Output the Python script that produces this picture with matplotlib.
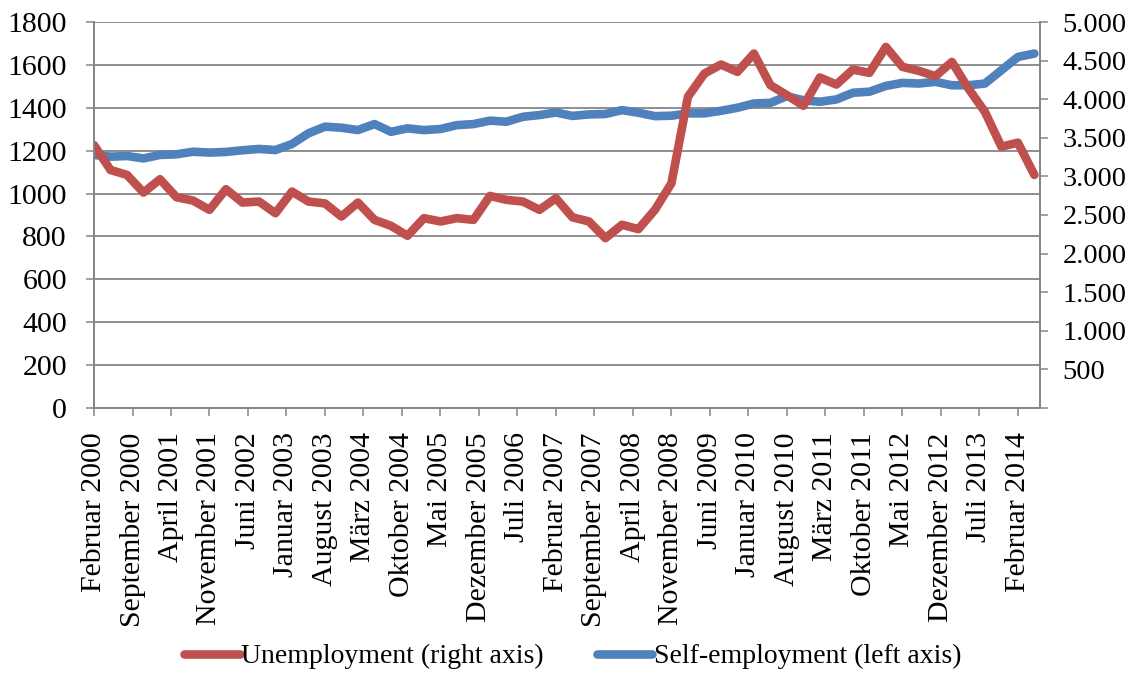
import numpy as np
import matplotlib
matplotlib.use("Agg")
import matplotlib.pyplot as plt
from matplotlib.ticker import FuncFormatter

plt.rcParams['font.family'] = ['Liberation Serif', 'DejaVu Serif']

# quarterly values, Feb 2000 .. May 2014
self_employment = [1180, 1172, 1175, 1164, 1180, 1183, 1195, 1191, 1194, 1202,
                   1208, 1203, 1231, 1281, 1312, 1307, 1296, 1324, 1288, 1304,
                   1296, 1301, 1319, 1324, 1340, 1335, 1358, 1366, 1378, 1362,
                   1369, 1371, 1389, 1377, 1361, 1363, 1374, 1374, 1386, 1400,
                   1420, 1423, 1454, 1435, 1428, 1439, 1470, 1475, 1502, 1516,
                   1513, 1521, 1505, 1505, 1513, 1575, 1637, 1653]
unemployment = [3406, 3083, 3019, 2791, 2963, 2730, 2687, 2567, 2834, 2661,
                2674, 2523, 2803, 2674, 2650, 2480, 2661, 2437, 2360, 2231,
                2459, 2416, 2459, 2437, 2747, 2696, 2674, 2567, 2717, 2470,
                2416, 2200, 2373, 2317, 2567, 2911, 4031, 4332, 4449, 4354,
                4591, 4182, 4052, 3915, 4281, 4190, 4384, 4341, 4677, 4419,
                4367, 4298, 4483, 4139, 3837, 3385, 3437, 3019]
tick_labels = ["Februar 2000", "September 2000", "April 2001", "November 2001",
               "Juni 2002", "Januar 2003", "August 2003", "März 2004",
               "Oktober 2004", "Mai 2005", "Dezember 2005", "Juli 2006",
               "Februar 2007", "September 2007", "April 2008", "November 2008",
               "Juni 2009", "Januar 2010", "August 2010", "März 2011",
               "Oktober 2011", "Mai 2012", "Dezember 2012", "Juli 2013",
               "Februar 2014"]

red = "#C0504D"
blue = "#4F81BD"
grey = "#868686"
fs = 21.5

# months since Feb 2000
months = np.arange(len(self_employment)) * 3

fig = plt.figure(figsize=(11.34, 6.75), dpi=100)
ax = fig.add_axes([0.0829, 0.3956, 0.8341, 0.5718])
ax2 = ax.twinx()

l_self, = ax.plot(months, self_employment, color=blue, lw=6.2,
                  solid_capstyle='round', solid_joinstyle='round',
                  label="Self-employment (left axis)")
l_unemp, = ax2.plot(months, unemployment, color=red, lw=6.2,
                    solid_capstyle='round', solid_joinstyle='round',
                    label="Unemployment (right axis)")

ax.set_xlim(0, months[-1] + 1)
ax.set_ylim(0, 1800)
ax.set_yticks(np.arange(0, 1801, 200))
ax2.set_ylim(0, 5000)
ax2.set_yticks(np.arange(0, 5001, 500))
ax2.yaxis.set_major_formatter(FuncFormatter(
    lambda v, p: "" if v == 0 else f"{int(v):,}".replace(",", ".")))

ax.set_xticks(np.arange(0, 169, 7))
ax.set_xticklabels(tick_labels, rotation=90, ha='center', va='top')

ax.grid(axis='y', color=grey, lw=1.3)
ax.set_axisbelow(True)

for a in (ax, ax2):
    a.spines['top'].set_visible(False)
    for s in ('left', 'right', 'bottom'):
        a.spines[s].set_color(grey)
        a.spines[s].set_linewidth(1.3)
    a.tick_params(colors=grey, labelcolor='black', labelsize=fs,
                  length=5.5, width=1.1)
ax.tick_params(axis='y', pad=14)
ax.tick_params(axis='x', pad=12)
ax2.tick_params(axis='y', pad=11, labelsize=20.5)

fig.legend(handles=[l_unemp, l_self], loc='center',
           bbox_to_anchor=(0.505, 0.027), ncol=2, frameon=False,
           fontsize=20, handlelength=2.0, handletextpad=0.05,
           columnspacing=1.9)

fig.savefig("out.png", dpi=100)
